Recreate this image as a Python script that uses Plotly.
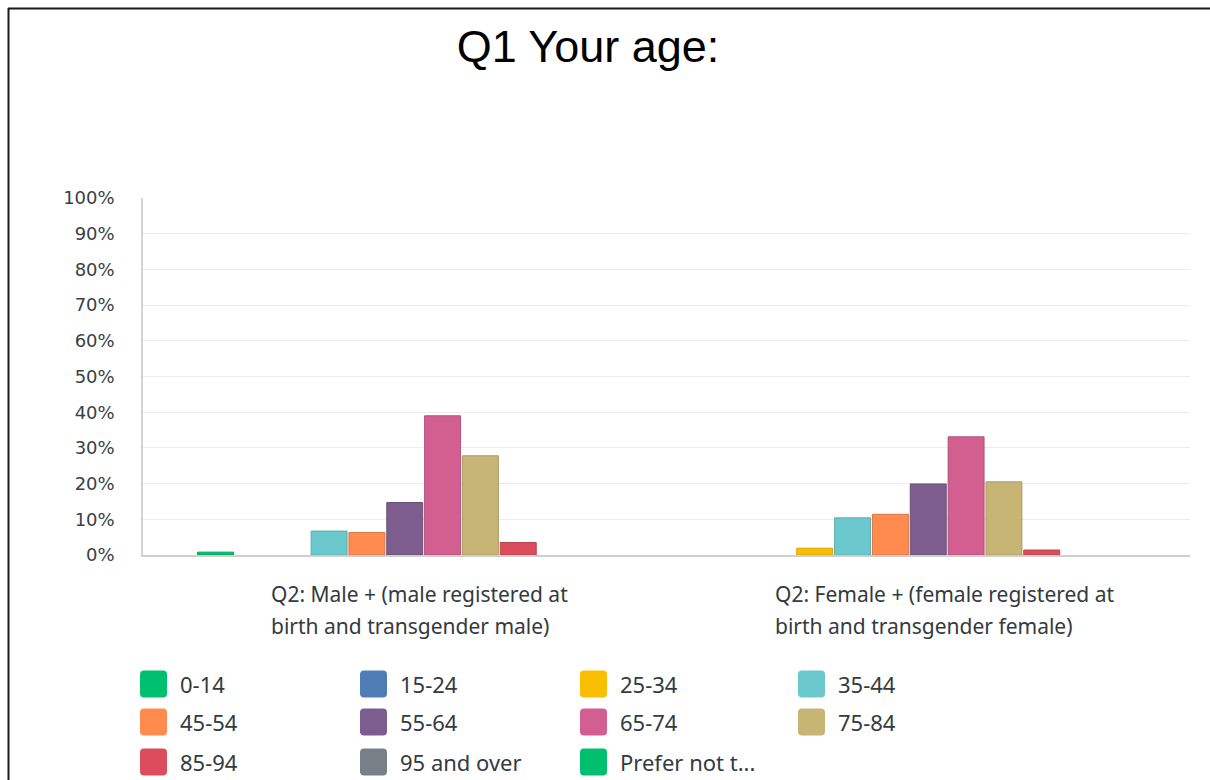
import plotly.graph_objects as go

# Survey question and breakdown groups
title_text = "Q1 Your age:"
groups = [
    "Q2: Male + (male registered at<br>birth and transgender male)",
    "Q2: Female + (female registered at<br>birth and transgender female)",
]

# Answer options (series)
age_bands = ["0-14", "15-24", "25-34", "35-44", "45-54", "55-64",
             "65-74", "75-84", "85-94", "95 and over", "Prefer not to answer"]

# Percent of respondents per answer, for each group
male_pct = [0.8, 0, 0, 6.7, 6.3, 14.7, 39.0, 27.8, 3.5, 0, 0]
female_pct = [0, 0, 1.9, 10.4, 11.4, 19.9, 33.1, 20.5, 1.4, 0, 0]

y_ticks = [0, 10, 20, 30, 40, 50, 60, 70, 80, 90, 100]
y_tick_text = [f"{v}%" for v in y_ticks]

band_colors = ["#00BF6F", "#507CB6", "#F9BE00", "#6BC8CD", "#FF8B4F", "#7D5D8E",
               "#D25F90", "#C6B574", "#DB4D5C", "#768086", "#00BF6F"]


def darker(hex_color, f=0.86):
    h = hex_color.lstrip("#")
    r, g, b = (int(h[i:i + 2], 16) for i in (0, 2, 4))
    return "rgb(%d,%d,%d)" % (r * f, g * f, b * f)


# Page and plot-area geometry (pixels)
W, H = 1210, 780
PL, PR, PT, PB = 143, 1190, 198, 555


def px_x(px):
    return (px - PL) / (PR - PL)


def px_y(py):
    return (PB - py) / (PB - PT)


label_font = "Noto Sans, Lato, sans-serif"

fig = go.Figure()
series_values = list(zip(male_pct, female_pct))
for name, color, vals in zip(age_bands, band_colors, series_values):
    fig.add_trace(go.Bar(
        name=name,
        x=groups,
        y=list(vals),
        marker=dict(color=color,
                    line=dict(color=darker(color),
                              width=[1 if v > 0 else 0 for v in vals])),
        showlegend=False,
    ))

# Category labels: left-aligned two-line blocks below each group
for g in groups:
    lines = g.split("<br>")
    for i, line in enumerate(lines):
        fig.add_annotation(
            x=g, xref="x", y=px_y(594 + i * 32), yref="paper",
            text=line, showarrow=False, xanchor="left", yanchor="middle",
            xshift=-136 if g == groups[0] else -155,
            font=dict(family=label_font, size=21, color="#333a40"),
        )

# Legend: rounded colour swatches with labels, four per row
col_x = [140, 360, 580, 798]
row_y = [684, 722, 762]
sw = 27
for idx, (name, color) in enumerate(zip(age_bands, band_colors)):
    r, c = divmod(idx, 4)
    x0, yc = col_x[c], row_y[r]
    x1, y0, y1 = x0 + sw, yc - sw / 2, yc + sw / 2
    rad = 4
    path = (
        f"M {px_x(x0 + rad)},{px_y(y0)} L {px_x(x1 - rad)},{px_y(y0)} "
        f"Q {px_x(x1)},{px_y(y0)} {px_x(x1)},{px_y(y0 + rad)} "
        f"L {px_x(x1)},{px_y(y1 - rad)} Q {px_x(x1)},{px_y(y1)} {px_x(x1 - rad)},{px_y(y1)} "
        f"L {px_x(x0 + rad)},{px_y(y1)} Q {px_x(x0)},{px_y(y1)} {px_x(x0)},{px_y(y1 - rad)} "
        f"L {px_x(x0)},{px_y(y0 + rad)} Q {px_x(x0)},{px_y(y0)} {px_x(x0 + rad)},{px_y(y0)} Z"
    )
    fig.add_shape(type="path", path=path, xref="paper", yref="paper",
                  fillcolor=color, line=dict(width=0))
    label = name if len(name) <= 12 else name[:12] + "..."
    fig.add_annotation(
        x=px_x(x0 + 38), y=px_y(yc), xref="paper", yref="paper",
        text=label, showarrow=False, xanchor="left", yanchor="middle",
        font=dict(family=label_font, size=22, color="#333a40"),
    )

# Outer frame (top and left edges)
fig.add_shape(type="line", xref="paper", yref="paper",
              x0=px_x(8), x1=px_x(1215), y0=px_y(8.5), y1=px_y(8.5),
              line=dict(color="#1a1a1a", width=2))
fig.add_shape(type="line", xref="paper", yref="paper",
              x0=px_x(8.5), x1=px_x(8.5), y0=px_y(8), y1=px_y(790),
              line=dict(color="#1a1a1a", width=2))

fig.update_layout(
    width=W, height=H, autosize=False,
    margin=dict(l=PL, r=W - PR, t=PT, b=H - PB, pad=0),
    paper_bgcolor="white", plot_bgcolor="white",
    barmode="group", bargap=0.205, bargroupgap=0.05,
    title=dict(text=title_text, x=588 / W, xanchor="center",
               y=1 - 46 / H, yanchor="middle", yref="container",
               font=dict(family="Liberation Sans, Arial, sans-serif", size=45, color="#000000")),
    showlegend=False,
)
fig.update_xaxes(showticklabels=False, showgrid=False, showline=True,
                 linecolor="#cfcfcf", linewidth=2, ticks="")
fig.update_yaxes(range=[0, 100], tickmode="array", tickvals=y_ticks, ticktext=y_tick_text,
                 showgrid=True, gridcolor="#ececec", gridwidth=1,
                 showline=True, linecolor="#d4d4d4", linewidth=1.5,
                 zeroline=False, ticks="", ticklabelstandoff=23,
                 tickfont=dict(family="DejaVu Sans, sans-serif", size=18, color="#3b4045"))

fig.write_html("out.html")
